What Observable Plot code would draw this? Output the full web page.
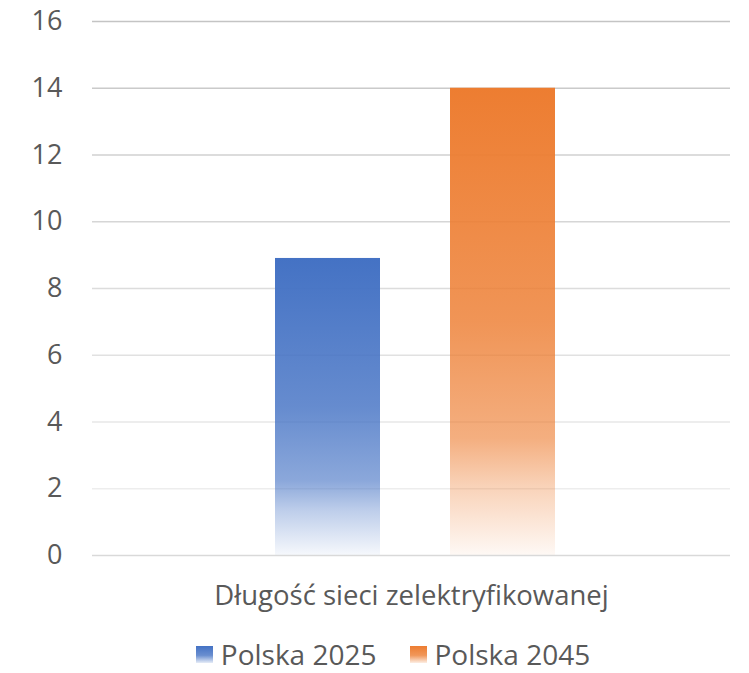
<!DOCTYPE html>
<html><head><meta charset="utf-8">
<script src="https://cdn.jsdelivr.net/npm/d3@7"></script>
<script src="https://cdn.jsdelivr.net/npm/@observablehq/plot@0.6"></script>
<style>
html,body{margin:0;padding:0;background:#fff;}
body{width:749px;font-family:"Open Sans",sans-serif;}
#legend{display:flex;justify-content:center;gap:33px;padding-left:37px;padding-top:16px;font-size:28px;line-height:26px;color:#595959;}
#legend .item{display:flex;align-items:center;gap:8px;}
#legend .sw{width:17px;height:17px;display:inline-block;}
</style></head><body>
<div id="chart"></div>
<div id="legend"></div>
<script>
const categories = ["Długość sieci zelektryfikowanej"];
const series = ["Polska 2025", "Polska 2045"];
const values = [8.9, 14];
const yTicks = [0, 2, 4, 6, 8, 10, 12, 14, 16];
const seriesColors = ["#4472C4", "#ED7D31"];

const data = series.map((s, i) => ({category: categories[0], series: s, value: values[i]}));
const gradIds = series.map((s, i) => "grad" + i);

// gridline shades fade toward the bottom (like the reference)
const gridShade = t => d3.interpolateRgb("#f3f3f3", "#c4c4c4")(t / 16);

const marks = [];
yTicks.filter(t => t > 0).forEach(t => {
  marks.push(Plot.ruleY([t], {stroke: gridShade(t), strokeWidth: 1.4}));
});
marks.push(Plot.barY(data, {fx: "category", x: "series", y: "value", fill: "series"}));
marks.push(Plot.ruleY([0], {stroke: "#d9d9d9", strokeWidth: 1.6}));

const svg = Plot.plot({
  width: 749,
  height: 625,
  marginLeft: 92,
  marginRight: 19,
  marginTop: 21,
  marginBottom: 70,
  style: {fontFamily: "'Open Sans', sans-serif", fontSize: "27px", color: "#595959", background: "#fff", overflow: "visible"},
  fx: {domain: categories, padding: 0, axis: "bottom", label: null, tickSize: 0, tickPadding: 30},
  x: {domain: series, axis: null, paddingInner: 0.4, paddingOuter: 1.02, align: 0.51},
  y: {domain: [0, 16], ticks: yTicks, tickSize: 0, tickPadding: 30, label: null, tickFormat: d => String(d)},
  color: {domain: series, range: gradIds.map(id => `url(#${id})`)},
  marks
});

const defs = d3.select(svg).insert("defs", ":first-child");
seriesColors.forEach((c, i) => {
  const g = defs.append("linearGradient").attr("id", gradIds[i])
    .attr("x1", 0).attr("y1", 0).attr("x2", 0).attr("y2", 1);
  [[0, 1], [0.5, 0.82], [0.75, 0.62], [0.85, 0.35], [1, 0.05]].forEach(([o, a]) => {
    g.append("stop").attr("offset", o).attr("stop-color", c).attr("stop-opacity", a);
  });
});
d3.select(svg).selectAll("g[aria-label='fx-axis'] text, g[aria-label='fx-axis tick label'] text").style("font-size", "27.5px");
document.getElementById("chart").appendChild(svg);

const legend = d3.select("#legend");
series.forEach((s, i) => {
  const it = legend.append("div").attr("class", "item");
  it.append("span").attr("class", "sw")
    .style("background", `linear-gradient(to bottom, ${seriesColors[i]} 0%, ${seriesColors[i]}cc 55%, ${seriesColors[i]}22 100%)`);
  it.append("span").text(s);
});
</script>
</body></html>
